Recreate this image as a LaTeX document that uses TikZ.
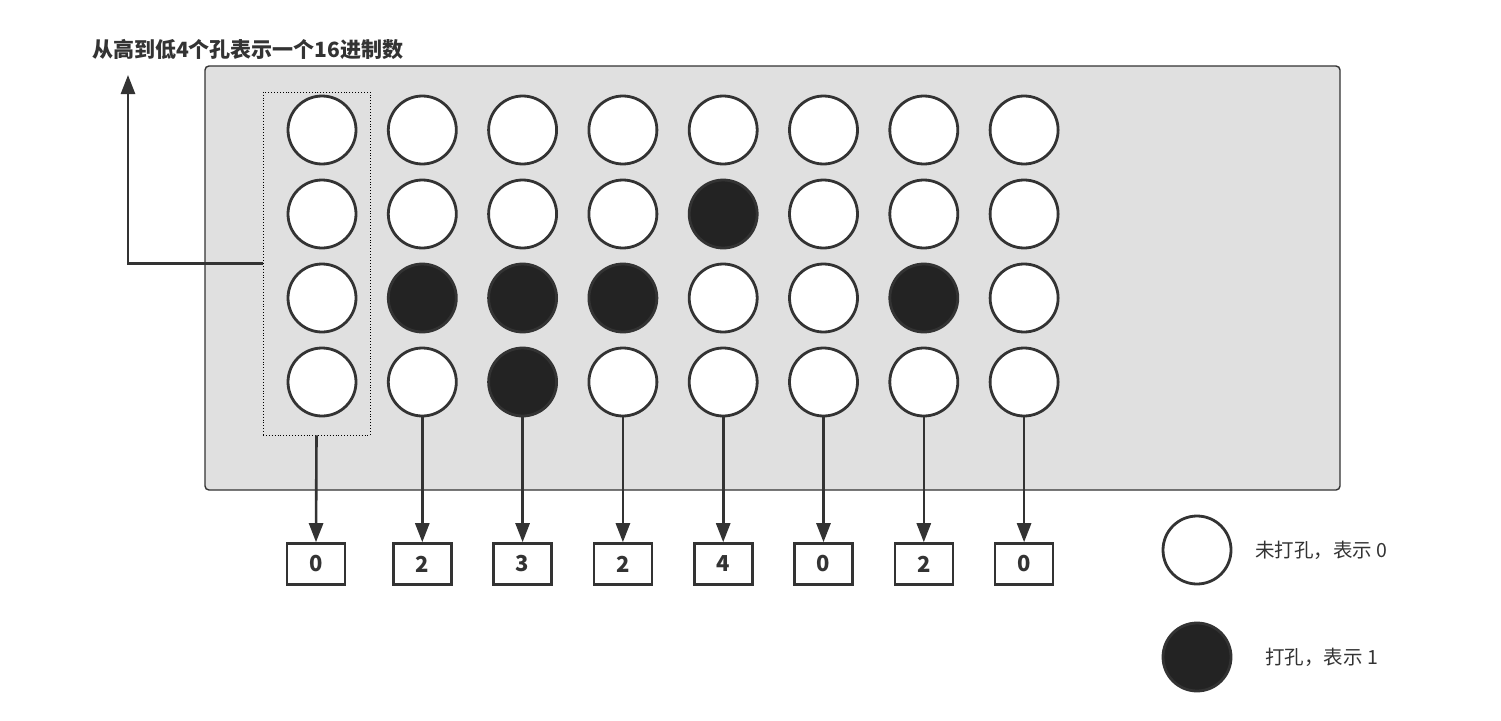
\documentclass[tikz,border=0pt]{standalone}
\usepackage{fontspec}
\setmainfont{Noto Sans CJK SC}
\usetikzlibrary{arrows.meta}
\definecolor{ln}{HTML}{333333}
\definecolor{dk}{HTML}{232323}
\definecolor{bg}{HTML}{E0E0E0}
\begin{document}
\begin{tikzpicture}[x=1pt,y=-1pt,
  hole/.style={circle,draw=ln,line width=2.8pt,fill=white,minimum size=68pt,inner sep=0pt},
  punched/.style={hole,fill=dk},
  valbox/.style={draw=ln,line width=2.6pt,fill=white,minimum width=58pt,minimum height=41pt,inner sep=0pt,font=\fontsize{22}{26}\selectfont\bfseries,text=ln},
  arr/.style={draw=ln,line width=2.6pt,-{Triangle[length=19pt,width=14pt]}},
  lbl/.style={font=\fontsize{19.5}{23}\selectfont,text=ln,anchor=west,inner sep=0pt}
]
\useasboundingbox (0,0) rectangle (1501,720);
\fill[white] (0,0) rectangle (1501,720);
\node[draw=ln,line width=1.4pt,fill=bg,rounded corners=4pt,minimum width=1135pt,minimum height=424pt,inner sep=0pt] (panel) at (772.5,278) {};
\node[draw=black,dotted,line width=0.9pt,minimum width=107pt,minimum height=343pt,inner sep=0pt] (grp) at (316.5,263.5) {};
% holes: row pattern (1 = punched)
\foreach \i/\a/\b/\c/\d in {1/0/0/0/0,2/0/0/1/0,3/0/0/1/1,4/0/0/1/0,5/0/1/0/0,6/0/0/0/0,7/0/0/1/0,8/0/0/0/0}{
  \pgfmathsetmacro\xx{322+100.3*(\i-1)}
  \foreach \r/\v in {1/\a,2/\b,3/\c,4/\d}{
    \pgfmathsetmacro\yy{130+84*(\r-1)}
    \ifnum\v=1
      \node[punched] (c-\i-\r) at (\xx,\yy) {};
    \else
      \node[hole] (c-\i-\r) at (\xx,\yy) {};
    \fi
  }
}
% value boxes
\node[valbox] (b1) at (316,564) {0};
\foreach \i/\t in {2/2,3/3,4/2,5/4,6/0,7/2,8/0}{
  \pgfmathsetmacro\xx{322+100.3*(\i-1)}
  \node[valbox] (b\i) at (\xx,564) {\t};
}
\draw[arr] (grp.south) -- (b1.north);
\foreach \i in {2,...,8}{
  \draw[arr] (c-\i-4.south) -- (b\i.north);
}
% arrow to title
\coordinate (tip) at (128,75);
\draw[arr] (grp.west) -| (tip);
\node[font=\fontsize{21}{25}\selectfont\bfseries,text=ln,anchor=west,inner sep=0pt] (title) at (92,49) {从高到低4个孔表示一个16进制数};
% legend
\node[hole] (l0) at (1197,550) {};
\node[punched] (l1) at (1197,657) {};
\node[lbl] (t0) at (1255,550) {未打孔，表示 0};
\node[lbl] (t1) at (1265,657) {打孔，表示 1};
\end{tikzpicture}
\end{document}
